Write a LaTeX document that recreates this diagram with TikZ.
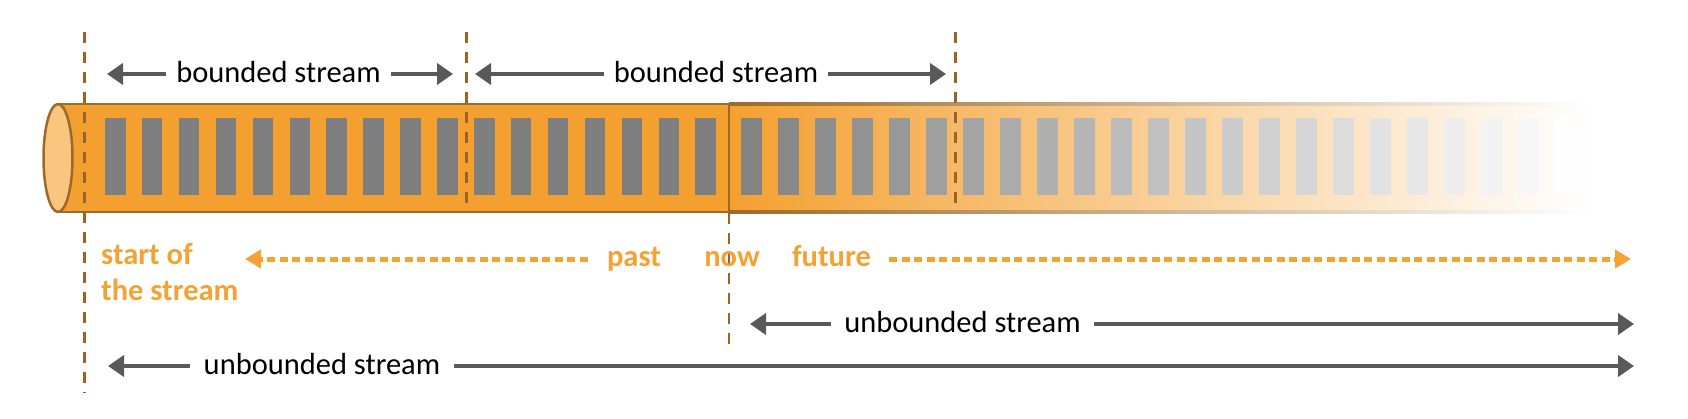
\documentclass[tikz,border=0pt]{standalone}
\usepackage{fontspec}
\setmainfont{Carlito}
\usetikzlibrary{arrows.meta}
\definecolor{tubeor}{HTML}{F4A030}
\definecolor{capfill}{HTML}{FAC57F}
\definecolor{tubebr}{HTML}{9C6A28}
\definecolor{dashbr}{HTML}{9A6524}
\definecolor{bargray}{HTML}{7F7F7F}
\definecolor{arrgray}{HTML}{595959}
\definecolor{txtor}{HTML}{F5A234}
\begin{document}
\begin{tikzpicture}[x=1pt,y=-1pt,
  lbl/.style={font=\fontsize{30.5}{36}\selectfont, text=black, inner xsep=10pt, inner ysep=0pt, text height=22pt, text depth=6pt},
  olbl/.style={font=\bfseries\fontsize{30.5}{36}\selectfont, text=txtor, inner sep=0pt, text height=20pt, text depth=6pt},
  olblm/.style={font=\bfseries\fontsize{30.5}{36}\selectfont, text=txtor, inner sep=0pt, align=left},
  garr/.style={-{Triangle[length=16pt,width=21pt]}, line width=4pt, arrgray},
  oarr/.style={-{Triangle[length=16pt,width=18pt]}, line width=5pt, txtor, dash pattern=on 8pt off 4.5pt},
  vdash/.style={dashbr, line width=3pt, dash pattern=on 11pt off 9pt},
  brline/.style={tubebr, line width=2.5pt},
]
\useasboundingbox (0,0) rectangle (1688,418);
\fill[white] (0,0) rectangle (1688,418);
% tube body
\fill[tubeor] (58,104) rectangle (729,212);
\shade[left color=tubeor, right color=white] (729,104) rectangle (1590,212);
% bars
\foreach \i in {0,...,16} \fill[bargray] (105+36.9*\i,118) rectangle ++(20.5,77);
\foreach \i in {0,...,22} {
  \pgfmathsetmacro\xx{741+37*\i}
  \pgfmathtruncatemacro\p{max(0,100-(\xx+10-729)/8.5)}
  \fill[bargray!\p!white] (\xx,118) rectangle ++(20.5,77);
}
% borders
\draw[brline] (58,104) -- (729,104);
\draw[brline] (58,212) -- (729,212);
\shade[left color=tubebr, right color=white] (729,102.75) rectangle (1590,105.25);
\shade[left color=tubebr, right color=white] (729,210.75) rectangle (1590,213.25);
\draw[tubebr, line width=2pt] (729,104) -- (729,212);
\draw[brline, fill=capfill] (58,158) ellipse [x radius=14.5, y radius=54];
% vertical dashed markers
\coordinate (d1t) at (84,32); \coordinate (d1b) at (84,393);
\coordinate (d2t) at (466,32); \coordinate (d2b) at (466,212);
\coordinate (d3t) at (955,32); \coordinate (d3b) at (955,212);
\coordinate (nt) at (729,213); \coordinate (nb) at (729,349);
\draw[vdash] (d1t) -- (d1b);
\draw[vdash] (d2t) -- (d2b);
\draw[vdash] (d3t) -- (d3b);
\draw[vdash, line width=2.5pt] (nt) -- (nb);
% bounded streams
\node[lbl] (b1) at (278.5,74) {bounded stream};
\coordinate (b1l) at (107,74); \coordinate (b1r) at (453,74);
\draw[garr] (b1.west) -- (b1l);
\draw[garr] (b1.east) -- (b1r);
\node[lbl] (b2) at (716,74) {bounded stream};
\coordinate (b2l) at (475,74); \coordinate (b2r) at (946,74);
\draw[garr] (b2.west) -- (b2l);
\draw[garr] (b2.east) -- (b2r);
% unbounded streams
\node[lbl, inner xsep=13pt] (u1) at (962.5,324) {unbounded stream};
\coordinate (u1l) at (750,324); \coordinate (u1r) at (1634,324);
\draw[garr] (u1.west) -- (u1l);
\draw[garr] (u1.east) -- (u1r);
\node[lbl, inner xsep=14pt] (u2) at (322,366) {unbounded stream};
\coordinate (u2l) at (108,366); \coordinate (u2r) at (1634,366);
\draw[garr] (u2.west) -- (u2l);
\draw[garr] (u2.east) -- (u2r);
% orange timeline
\node[olblm, anchor=north west] (start) at (101,243) {start of\\the stream};
\node[olbl] (past) at (634,259) {past};
\node[olbl] (now) at (732,259) {now};
\node[olbl] (future) at (831.5,259) {future};
\coordinate (pe) at (245,259);
\coordinate (fe) at (1631,259);
\draw[oarr, shorten <=19pt] (past.west) -- (pe);
\draw[oarr, shorten <=18pt] (future.east) -- (fe);
\end{tikzpicture}
\end{document}
